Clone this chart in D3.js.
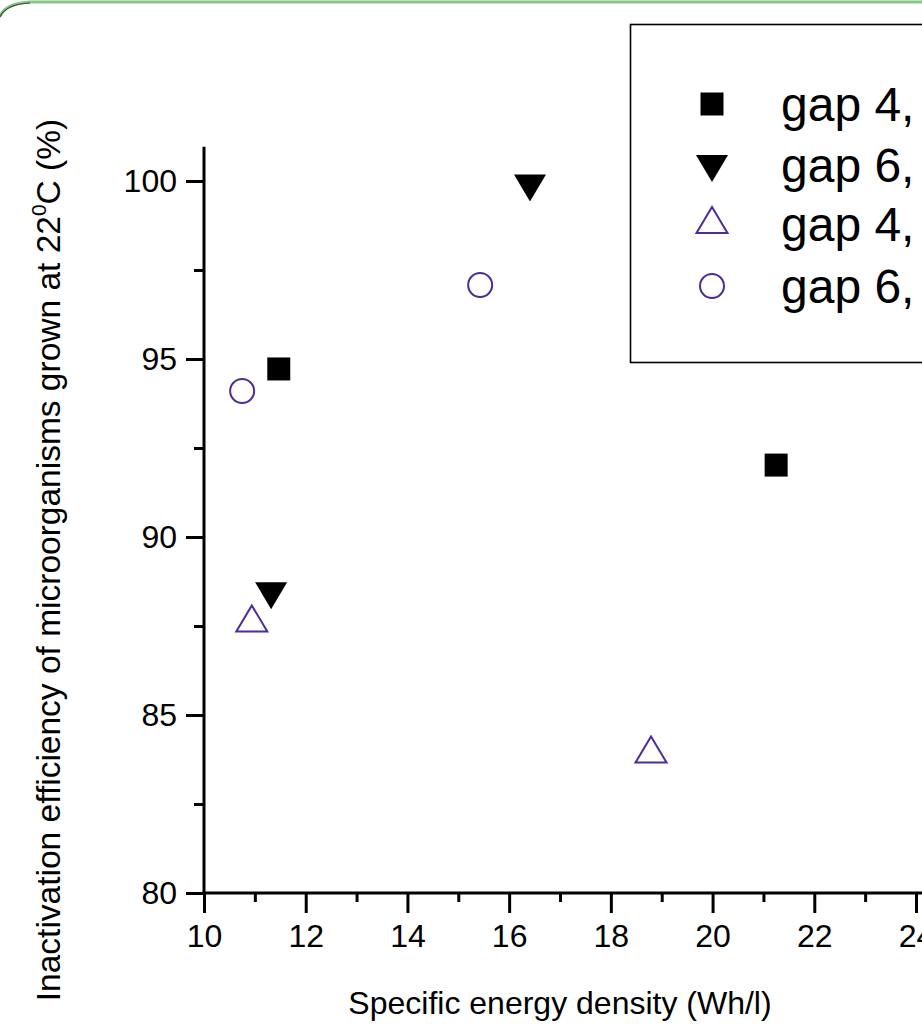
<!DOCTYPE html>
<meta charset="utf-8">
<style>
  body { margin: 0; padding: 0; background: #fff; }
  svg { display: block; font-family: 'Liberation Sans', Arial, sans-serif; }
  .axis path, .axis line { stroke: #000; stroke-width: 3px; }
  .axis text { font-size: 32px; fill: #000; font-family: 'Liberation Sans', Arial, sans-serif; }
  .lbl { font-size: 32px; fill: #000; }
  .ylbl { font-size: 33.5px; fill: #000; }
  .leg { font-size: 48px; fill: #000; }
</style>
<body>
<svg id="chart" width="922" height="1034"></svg>
</body>
<script src="https://d3js.org/d3.v7.min.js"></script>
<script>

// series: gap / material, energy density (Wh/l) and inactivation (%)
var gap4Filled = [ {x: 11.47, y: 94.72}, {x: 21.25, y: 92.02} ];
var gap6Filled = [ {x: 16.41, y: 99.9}, {x: 11.32, y: 88.45} ];
var gap4Open   = [ {x: 10.94, y: 87.6}, {x: 18.79, y: 83.92} ];
var gap6Open   = [ {x: 10.75, y: 94.1}, {x: 15.43, y: 97.08} ];

var xTicks = [10, 12, 14, 16, 18, 20, 22, 24];
var xMinor = [11, 13, 15, 17, 19, 21, 23];
var yTicks = [80, 85, 90, 95, 100];
var yMinor = [82.5, 87.5, 92.5, 97.5];

var legendLabels = ["gap 4,", "gap 6,", "gap 4,", "gap 6,"];

var purple = "#4b2c9c";

var svg = d3.select("#chart");

svg.append("rect").attr("width", 922).attr("height", 1034).attr("fill", "#fff");

// frame edge of the original figure
svg.append("path")
    .attr("d", "M0,16 Q6,3 30,2 L922,2")
    .attr("fill", "none")
    .attr("stroke", "#8cc48a")
    .attr("stroke-width", 3);
svg.append("path")
    .attr("d", "M0,17 Q6,4 30,3")
    .attr("fill", "none")
    .attr("stroke", "#2c4a2c")
    .attr("stroke-width", 1.2);

var x = d3.scaleLinear().domain([10, 24]).range([204, 916]);
var y = d3.scaleLinear().domain([80, 100]).range([893, 181]);

// axis lines
svg.append("line")
    .attr("x1", x(10)).attr("x2", x(10))
    .attr("y1", y(80) + 1.5).attr("y2", y(100.96))
    .attr("stroke", "#000").attr("stroke-width", 3);
svg.append("line")
    .attr("x1", x(10) - 1.5).attr("x2", x(24.3))
    .attr("y1", y(80)).attr("y2", y(80))
    .attr("stroke", "#000").attr("stroke-width", 3);

var xAxis = d3.axisBottom(x).tickValues(xTicks).tickSize(20).tickPadding(11).tickFormat(d3.format("d"));
var xAxisMinor = d3.axisBottom(x).tickValues(xMinor).tickSize(9).tickFormat("");
var yAxis = d3.axisLeft(y).tickValues(yTicks).tickSize(18).tickPadding(9).tickFormat(d3.format("d"));
var yAxisMinor = d3.axisLeft(y).tickValues(yMinor).tickSize(10).tickFormat("");

svg.append("g").attr("class", "axis").attr("transform", "translate(0," + y(80) + ")").call(xAxis);
svg.append("g").attr("class", "axis").attr("transform", "translate(0," + y(80) + ")").call(xAxisMinor);
svg.append("g").attr("class", "axis").attr("transform", "translate(" + x(10) + ",0)").call(yAxis);
svg.append("g").attr("class", "axis").attr("transform", "translate(" + x(10) + ",0)").call(yAxisMinor);
svg.selectAll(".axis .domain").remove();

// axis titles
svg.append("text")
    .attr("class", "lbl")
    .attr("x", 560).attr("y", 1014)
    .attr("text-anchor", "middle")
    .text("Specific energy density (Wh/l)");

var yl = svg.append("text")
    .attr("class", "ylbl")
    .attr("transform", "translate(60,560) rotate(-90)")
    .attr("text-anchor", "middle");
yl.append("tspan").text("Inactivation efficiency of microorganisms grown at 22");
yl.append("tspan").attr("font-size", "21px").attr("dy", -14).text("0");
yl.append("tspan").attr("dy", 14).text("C (%)");

// marker shapes
var sqSym = d3.symbol().type(d3.symbolSquare).size(23 * 23);
var triUp = "M0,-17 L15.5,9 L-15.5,9 Z";
var triDown = "M0,17 L16,-10 L-16,-10 Z";

function drawSeries(data, kind) {
    var g = svg.append("g");
    var sel = g.selectAll("path").data(data).enter().append("path")
        .attr("transform", function (d) { return "translate(" + x(d.x) + "," + y(d.y) + ")"; });
    styleMark(sel, kind);
}

function styleMark(sel, kind) {
    if (kind === "square") {
        sel.attr("d", sqSym()).attr("fill", "#000");
    } else if (kind === "down") {
        sel.attr("d", triDown).attr("fill", "#000");
    } else if (kind === "up") {
        sel.attr("d", triUp).attr("fill", "none").attr("stroke", purple).attr("stroke-width", 2);
    } else {
        sel.attr("d", d3.symbol().type(d3.symbolCircle).size(Math.PI * 12 * 12)())
           .attr("fill", "none").attr("stroke", purple).attr("stroke-width", 2);
    }
}

drawSeries(gap4Filled, "square");
drawSeries(gap6Filled, "down");
drawSeries(gap4Open, "up");
drawSeries(gap6Open, "circle");

// legend
svg.append("rect")
    .attr("x", 630.5).attr("y", 24.5)
    .attr("width", 320).attr("height", 338)
    .attr("fill", "none").attr("stroke", "#000").attr("stroke-width", 1.6);

var kinds = ["square", "down", "up", "circle"];
var rowY = [104, 165, 224, 286];
kinds.forEach(function (k, i) {
    var m = svg.append("path").attr("transform", "translate(712," + rowY[i] + ")");
    styleMark(m, k);
    svg.append("text").attr("class", "leg")
        .attr("x", 781).attr("y", rowY[i] + 17)
        .text(legendLabels[i]);
});

</script>
